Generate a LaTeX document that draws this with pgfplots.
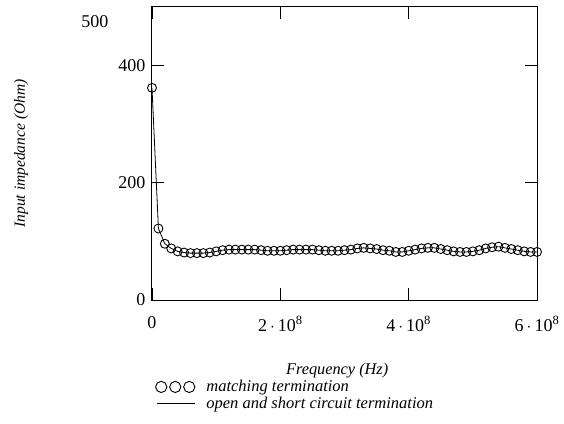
\documentclass[border=0pt]{standalone}
\usepackage{pgfplots}
\pgfplotsset{compat=1.18}
\usepackage{fontspec}
\setmainfont{Liberation Serif}

\begin{document}
\begin{tikzpicture}
  \useasboundingbox (-152pt,-123pt) rectangle (412pt,300pt);
  \begin{axis}[
      scale only axis, width=385pt, height=293pt,
      at={(0,0)}, anchor=south west,
      xmin=0, xmax=6e8, ymin=0, ymax=500,
      xtick={0,2e8,4e8,6e8},
      xticklabels={0, 2\,$\cdot$\,10\textsuperscript{8}, 4\,$\cdot$\,10\textsuperscript{8}, 6\,$\cdot$\,10\textsuperscript{8}},
      ytick={0,200,400},
      yticklabels={0,200,400},
      scaled x ticks=false,
      tick align=inside, major tick length=12pt,
      tick style={line width=0.9pt, black},
      axis line style={line width=1pt},
      ticklabel style={font=\fontsize{18}{20}\selectfont},
      xticklabel style={yshift=-13pt},
      yticklabel style={xshift=-3pt},
      xlabel={\itshape Frequency (Hz)},
      ylabel={\itshape Input impedance (Ohm)},
      xlabel style={font=\fontsize{16.3}{18}\selectfont, at={(axis description cs:0.481,0)}, anchor=center, yshift=-71pt},
      ylabel style={font=\fontsize{15.5}{18}\selectfont, at={(axis description cs:-0.34,0.5)}, anchor=center},
      legend style={at={(axis description cs:0.0,-0.262)}, anchor=north west,
        draw=none, fill=none, font=\fontsize{16.5}{18}\selectfont\itshape,
        row sep=1pt, legend cell align=left,
        nodes={inner sep=1.5pt}},
      clip=false,
    ]
    \addplot[only marks, mark=o, mark size=4.5pt, mark options={line width=0.9pt},
      legend image code/.code={
        \draw[line width=0.9pt] (6pt,0) circle (5.6pt);
        \draw[line width=0.9pt] (20pt,0) circle (5.6pt);
        \draw[line width=0.9pt] (34pt,0) circle (5.6pt);
        \path (1.38cm+10pt,0);}]
      table {
x y
0 362
1e7 122
2e7 96
3e7 88
4e7 83
5e7 81
6e7 80
7e7 80
8e7 80
9e7 81
1e8 83
1.1e8 85
1.2e8 86
1.3e8 86
1.4e8 86
1.5e8 86
1.6e8 86
1.7e8 85
1.8e8 84
1.9e8 84
2.0e8 84
2.1e8 85
2.2e8 86
2.3e8 86
2.4e8 86
2.5e8 86
2.6e8 85
2.7e8 84
2.8e8 84
2.9e8 84
3.0e8 85
3.1e8 86
3.2e8 88
3.3e8 89
3.4e8 88
3.5e8 87
3.6e8 85
3.7e8 84
3.8e8 82
3.9e8 82
4.0e8 84
4.1e8 86
4.2e8 88
4.3e8 89
4.4e8 89
4.5e8 87
4.6e8 85
4.7e8 83
4.8e8 82
4.9e8 82
5.0e8 83
5.1e8 85
5.2e8 88
5.3e8 90
5.4e8 91
5.5e8 89
5.6e8 87
5.7e8 85
5.8e8 83
5.9e8 82
6.0e8 82
};
    \addlegendentry{matching termination}
    \addplot[black, line width=0.8pt, no marks,
      legend image code/.code={\draw[line width=0.9pt] (0.05cm,0) -- (1.38cm,0);
        \path (1.38cm+10pt,0);}]
      table {
x y
0 362
1e7 122
2e7 96
3e7 88
4e7 83
5e7 81
6e7 80
7e7 80
8e7 80
9e7 81
1e8 83
1.1e8 85
1.2e8 86
1.3e8 86
1.4e8 86
1.5e8 86
1.6e8 86
1.7e8 85
1.8e8 84
1.9e8 84
2.0e8 84
2.1e8 85
2.2e8 86
2.3e8 86
2.4e8 86
2.5e8 86
2.6e8 85
2.7e8 84
2.8e8 84
2.9e8 84
3.0e8 85
3.1e8 86
3.2e8 88
3.3e8 89
3.4e8 88
3.5e8 87
3.6e8 85
3.7e8 84
3.8e8 82
3.9e8 82
4.0e8 84
4.1e8 86
4.2e8 88
4.3e8 89
4.4e8 89
4.5e8 87
4.6e8 85
4.7e8 83
4.8e8 82
4.9e8 82
5.0e8 83
5.1e8 85
5.2e8 88
5.3e8 90
5.4e8 91
5.5e8 89
5.6e8 87
5.7e8 85
5.8e8 83
5.9e8 82
6.0e8 82
};
    \addlegendentry{open and short circuit termination}
    \node[anchor=east, font=\fontsize{18}{20}\selectfont] at (rel axis cs:0,1) [xshift=-40pt, yshift=-15pt] {500};
  \end{axis}
\end{tikzpicture}
\end{document}
